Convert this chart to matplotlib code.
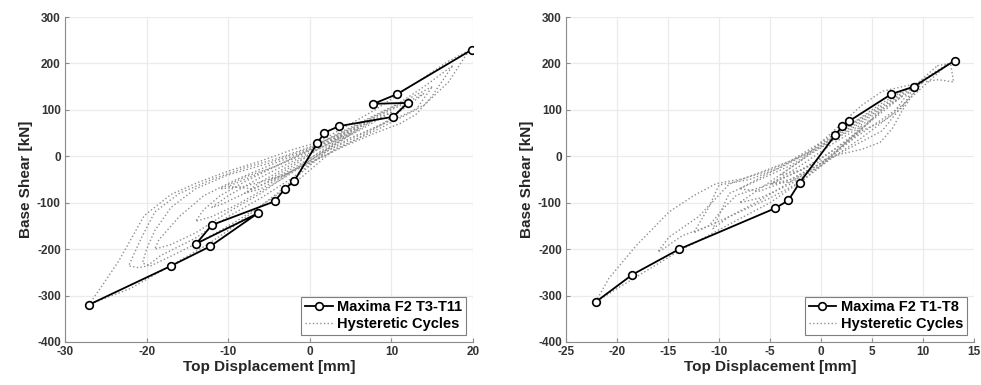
import matplotlib
matplotlib.use("Agg")
import matplotlib.pyplot as plt

plt.rcParams['font.family'] = ['Liberation Sans', 'DejaVu Sans']
plt.rcParams['axes.unicode_minus'] = False

# ---------------- Left panel data ----------------
left_max_x = [-27.1, -17.0, -12.2, -6.4, -13.9, -12.0, -4.3, -3.1, -1.9, 0.9, 1.8, 3.6, 10.2, 12.0, 7.8, 10.7, 19.9]
left_max_y = [-320, -236, -194, -123, -188, -148, -97, -71, -53, 28, 51, 65, 85, 115, 113, 134, 230]

left_loops_x = [
    [19.5, 17, 14, 11, 8, 5, 2, 0, -2, -6, -10, -13.8, -17, -20.3, -23.4, -25.5, -27.1, -25, -22, -19, -16, -13, -10, -7, -4, -1, 2, 5, 8, 11, 14, 17, 19.5],
    [12, 8, 4, 0, -4, -8, -12, -16, -19, -20.7, -22.2, -21, -19.9, -18.3, -14.2, -10, -6, -2, 2, 6, 10, 12],
    [15, 10, 5, 0, -5, -10, -14, -17, -19, -20, -20.5, -19.5, -17, -13, -9, -5, -1, 3, 8, 13, 15],
    [10, 5, 0, -5, -9, -13, -16, -18.5, -19, -17, -14, -10, -6, -2, 2, 6, 10],
    [8, 4, 0, -4, -8, -11, -13, -14, -12, -9, -6, -3, 0, 4, 8],
    [6, 2, -2, -6, -10, -12, -11, -8, -4, 0, 4, 6],
    [5, 1, -3, -6, -8, -6, -3, 0, 3, 5],
    [17.5, 14, 11, 7, 3, 0, -4, -8, -11, -8, -4, 0, 4, 8, 11, 13, 15, 17.5],
    [4, 1, -2, -5, -3, 0, 2, 4],
    [14, 10, 6, 2, -2, -6, -10, -7, -3, 1, 5, 9, 14],
]
left_loops_y = [
    [228, 205, 170, 135, 100, 70, 40, 25, 15, -10, -32, -57, -82, -128, -225, -280, -320, -305, -285, -255, -225, -195, -160, -120, -80, -35, 10, 40, 62, 85, 110, 160, 228],
    [120, 85, 50, 20, -5, -25, -50, -80, -120, -178, -236, -240, -236, -214, -178, -130, -90, -45, 10, 45, 80, 120],
    [150, 105, 60, 18, -15, -40, -70, -110, -160, -200, -230, -236, -215, -180, -140, -95, -45, 15, 55, 100, 150],
    [95, 55, 15, -20, -50, -85, -130, -180, -200, -190, -165, -120, -80, -30, 20, 55, 95],
    [80, 45, 12, -20, -55, -85, -115, -140, -130, -105, -75, -45, -10, 35, 80],
    [60, 25, -10, -45, -85, -110, -105, -80, -45, -5, 35, 60],
    [50, 15, -25, -55, -80, -70, -40, -10, 25, 50],
    [195, 150, 115, 80, 45, 15, -20, -45, -70, -65, -45, -15, 20, 50, 70, 90, 130, 195],
    [45, 15, -20, -50, -40, -10, 15, 45],
    [135, 100, 65, 30, -5, -35, -65, -70, -40, -5, 30, 70, 135],
]

# ---------------- Right panel data ----------------
right_max_x = [-22.1, -18.5, -13.9, -4.5, -3.2, -2.1, 1.4, 2.1, 2.7, 6.9, 9.1, 13.1]
right_max_y = [-314, -255, -200, -112, -95, -57, 46, 65, 75, 134, 150, 206]

right_loops_x = [
    [12.5, 10, 8, 6, 4, 2, 0, -2, -5, -7.6, -10.3, -12.5, -14.9, -18.1, -20.8, -22.1, -20, -17, -14, -11, -8, -5, -2, 0, 2, 4, 6, 8, 10, 12.5],
    [9, 6, 3, 0, -3, -6, -9, -12, -14.9, -16, -15.5, -13.6, -11, -8, -5, -2, 1, 4, 7, 9],
    [8, 5, 2, -1, -4, -7, -10, -11, -12.5, -11, -9.6, -8.3, -5, -2, 1, 4, 8],
    [6, 3, 0, -3, -6, -9, -10.6, -9, -6, -3, 0, 3, 6],
    [5, 2, -1, -4, -8, -6, -3, 0, 3, 5],
    [11.4, 12.7, 13, 11.5, 10, 8, 6, 4, 2, 0, -2, -4, -2, 0, 2, 4, 6, 8, 9.1, 11.4],
    [9.5, 8, 7, 5.8, 4, 2, 0, -2, -5, -3, 0, 2, 4, 6, 8, 9.5],
    [4, 1, -2, -5, -3, 0, 2, 4],
    [10, 7, 4, 1, -2, -5, -8, -6, -3, 0, 3, 6, 8, 10],
]
right_loops_y = [
    [200, 165, 140, 115, 85, 55, 22, 0, -30, -48, -59, -85, -120, -192, -263, -314, -285, -245, -205, -170, -135, -100, -55, -20, 20, 50, 80, 110, 150, 200],
    [150, 110, 70, 30, -10, -35, -60, -130, -174, -206, -200, -171, -150, -120, -90, -55, -5, 40, 90, 150],
    [130, 90, 50, 10, -25, -50, -62, -110, -165, -150, -113, -84, -60, -30, 10, 60, 130],
    [100, 60, 20, -20, -50, -80, -156, -130, -95, -55, -15, 40, 100],
    [80, 45, 5, -40, -100, -90, -60, -20, 35, 80],
    [195, 200, 160, 165, 160, 150, 140, 110, 70, 30, -10, -40, -30, -5, 25, 55, 75, 105, 150, 195],
    [150, 100, 60, 30, 15, 5, -10, -30, -60, -50, -15, 20, 60, 100, 130, 150],
    [65, 25, -20, -60, -55, -20, 20, 65],
    [160, 120, 80, 40, 0, -35, -70, -75, -50, -15, 20, 55, 110, 160],
]

left_xticks = [-30, -20, -10, 0, 10, 20]
right_xticks = [-25, -20, -15, -10, -5, 0, 5, 10, 15]
yticks = [-400, -300, -200, -100, 0, 100, 200, 300]

fig = plt.figure(figsize=(9.81, 3.85), dpi=100)
ax1 = fig.add_axes([65/981, 43/385, 408/981, 325/385])
ax2 = fig.add_axes([566/981, 43/385, 408/981, 325/385])

def style(ax, xticks, max_label, mx, my, lx, ly):
    for i, (x, y) in enumerate(zip(lx, ly)):
        ax.plot(x, y, linestyle=':', color='#8f8f8f', linewidth=1.0,
                label='Hysteretic Cycles' if i == 0 else None, zorder=2)
    ax.plot(mx, my, '-o', color='black', linewidth=1.3, markersize=5.5,
            markerfacecolor='white', markeredgecolor='black', markeredgewidth=1.2,
            label=max_label, zorder=3)
    ax.set_xlim(xticks[0], xticks[-1])
    ax.set_ylim(-400, 300)
    ax.set_xticks(xticks)
    ax.set_yticks(yticks)
    ax.grid(True, color='#ebebeb', linewidth=0.9)
    ax.set_axisbelow(True)
    for s in ['top', 'right']:
        ax.spines[s].set_visible(False)
    for s in ['left', 'bottom']:
        ax.spines[s].set_color('#8c8c8c')
        ax.spines[s].set_linewidth(0.8)
    ax.tick_params(direction='in', length=3, color='#8c8c8c', labelsize=8.5,
                   labelcolor='#333333', pad=3)
    for lab in ax.get_xticklabels() + ax.get_yticklabels():
        lab.set_fontweight('bold')
    ax.set_xlabel('Top Displacement [mm]', fontsize=11, fontweight='bold', color='#262626', labelpad=1)
    ax.set_ylabel('Base Shear [kN]', fontsize=11, fontweight='bold', color='#262626', labelpad=3)
    handles, labels = ax.get_legend_handles_labels()
    leg = ax.legend(handles[::-1], labels[::-1], loc='lower right',
                    prop={'weight': 'bold', 'size': 10.5}, frameon=True, fancybox=False,
                    edgecolor='#7f7f7f', framealpha=1, handlelength=1.9, handletextpad=0.3,
                    borderpad=0.25, labelspacing=0.2, borderaxespad=0.5)
    leg.get_frame().set_linewidth(0.8)

style(ax1, left_xticks, 'Maxima F2 T3-T11', left_max_x, left_max_y, left_loops_x, left_loops_y)
style(ax2, right_xticks, 'Maxima F2 T1-T8', right_max_x, right_max_y, right_loops_x, right_loops_y)

fig.savefig('out.png', dpi=100)
